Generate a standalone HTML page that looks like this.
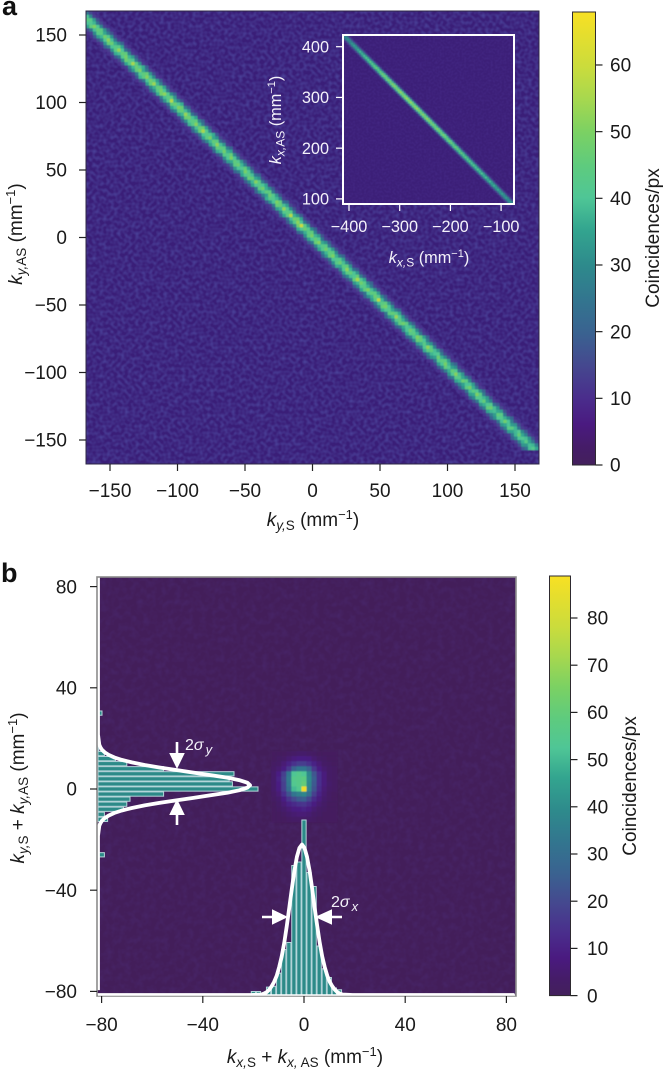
<!DOCTYPE html>
<html lang="en">
<head>
<meta charset="utf-8">
<title>Momentum correlation heatmaps</title>
<style>
html,body{margin:0;padding:0;background:#fff;width:664px;height:1071px;overflow:hidden}
svg{display:block}
text{font-family:"Liberation Sans",sans-serif;font-size:19px;fill:#1a1a1a}
.it{font-style:italic}
.sub{font-size:13.5px}
.sup{font-size:13px}
.w{fill:#f4f2fa}
.ins{font-size:16.3px}
.insub{font-size:12px}
.insup{font-size:11px}
</style>
</head>
<body>
<svg id="figure" width="664" height="1071" viewBox="0 0 664 1071" xmlns="http://www.w3.org/2000/svg">
<defs>
<clipPath id="clipA"><rect x="86" y="11" width="453" height="453"/></clipPath>
<clipPath id="clipI"><rect x="343" y="35" width="171" height="169"/></clipPath>
<clipPath id="clipB"><rect x="97" y="577" width="419" height="419"/></clipPath>
<filter id="grainA" x="0" y="0" width="100%" height="100%" color-interpolation-filters="sRGB">
<feTurbulence type="fractalNoise" baseFrequency="0.28" numOctaves="1" seed="7"/>
<feColorMatrix values="0 0 0 0 0.30  0 0 0 0 0.28  0 0 0 0 0.62  1.7 0 0 0 -0.6"/>
</filter>
<filter id="grainI" x="0" y="0" width="100%" height="100%" color-interpolation-filters="sRGB">
<feTurbulence type="fractalNoise" baseFrequency="0.45" numOctaves="1" seed="11"/>
<feColorMatrix values="0 0 0 0 0.30  0 0 0 0 0.20  0 0 0 0 0.58  0.8 0 0 0 -0.3"/>
</filter>
<filter id="grainB" x="0" y="0" width="100%" height="100%" color-interpolation-filters="sRGB">
<feTurbulence type="fractalNoise" baseFrequency="0.16" numOctaves="2" seed="4"/>
<feColorMatrix values="0 0 0 0 0.30  0 0 0 0 0.18  0 0 0 0 0.48  0.8 0 0 0 -0.32"/>
</filter>
<filter id="soft" x="-5%" y="-5%" width="110%" height="110%"><feGaussianBlur stdDeviation="0.6"/></filter>
<filter id="softI" x="-5%" y="-5%" width="110%" height="110%"><feGaussianBlur stdDeviation="0.4"/></filter>
<filter id="softB" x="-15%" y="-15%" width="130%" height="130%"><feGaussianBlur stdDeviation="0.5"/></filter>
<linearGradient id="cmap" x1="0" y1="1" x2="0" y2="0"></linearGradient>
</defs>

<text x="2" y="15" style="font-size:27px;font-weight:bold;fill:#111">a</text>
<text x="1" y="582" style="font-size:27px;font-weight:bold;fill:#111">b</text>

<g id="panelA">
  <g clip-path="url(#clipA)">
    <rect x="86" y="11" width="453" height="453" fill="#3a1e78"/>
    <rect x="86" y="11" width="453" height="453" filter="url(#grainA)"/>
    <g id="ridgeA" filter="url(#soft)"></g>
  </g>
  <rect x="86" y="11" width="453" height="453" fill="none" stroke="#2e2745" stroke-width="1"/>
  <g id="ticksA"></g>
  <text x="313" y="526" text-anchor="middle"><tspan class="it">k</tspan><tspan class="it sub" dy="4">y,</tspan><tspan class="sub">S</tspan><tspan dy="-4"> (mm</tspan><tspan class="sup" dy="-7">−1</tspan><tspan dy="7">)</tspan></text>
  <text transform="translate(22,234) rotate(-90)" text-anchor="middle"><tspan class="it">k</tspan><tspan class="it sub" dy="4">y,</tspan><tspan class="sub">AS</tspan><tspan dy="-4"> (mm</tspan><tspan class="sup" dy="-7">−1</tspan><tspan dy="7">)</tspan></text>

  <g id="insetA">
    <g clip-path="url(#clipI)">
      <rect x="343" y="35" width="171" height="169" fill="#3c1f78"/>
      <rect x="343" y="35" width="171" height="169" filter="url(#grainI)"/>
      <g id="ridgeI" filter="url(#softI)"></g>
    </g>
    <rect x="343" y="35" width="171" height="169" fill="none" stroke="#fff" stroke-width="2"/>
    <g id="ticksI"></g>
    <text class="w ins" x="429" y="263" text-anchor="middle"><tspan class="it">k</tspan><tspan class="it insub" dy="3.5">x,</tspan><tspan class="insub">S</tspan><tspan dy="-3.5"> (mm</tspan><tspan class="insup" dy="-6">−1</tspan><tspan dy="6">)</tspan></text>
    <text class="w ins" transform="translate(281,120) rotate(-90)" text-anchor="middle"><tspan class="it">k</tspan><tspan class="it insub" dy="3.5">x,</tspan><tspan class="insub">AS</tspan><tspan dy="-3.5">  (mm</tspan><tspan class="insup" dy="-6">−1</tspan><tspan dy="6">)</tspan></text>
  </g>
</g>

<g id="cbarA">
  <rect x="572.5" y="12" width="23" height="453" fill="url(#cmap)" stroke="#2e2a30" stroke-width="1"/>
  <text transform="translate(659,238) rotate(-90)" text-anchor="middle">Coincidences/px</text>
</g>

<g id="panelB">
  <g clip-path="url(#clipB)">
    <rect x="97" y="577" width="419" height="419" fill="#431e5a"/>
    <rect x="97" y="577" width="419" height="419" filter="url(#grainB)"/>
    <g id="blobB" filter="url(#softB)"></g>
    <g id="histY"></g>
    <g id="histX"></g>
    <path id="fitY" fill="none" stroke="#fff" stroke-width="3.8" stroke-linejoin="round"/>
    <path id="fitX" fill="none" stroke="#fff" stroke-width="3.8" stroke-linejoin="round"/>
  </g>
  <rect x="97" y="577" width="419" height="419" fill="none" stroke="#8c8c8c" stroke-width="1.6"/>
  <line x1="98" y1="995" x2="515" y2="995" stroke="#fff" stroke-width="1.4"/>
  <g id="ticksB"></g>

  <g fill="#fff">
    <path d="M175.7 742h2.6v11h6.5l-7.8 16l-7.8-16h6.5z"/>
    <path d="M175.7 825h2.6v-10h6.5l-7.8-16l-7.8 16h6.5z"/>
    <text class="w" x="185" y="750" style="font-size:16px">2<tspan class="it">σ</tspan><tspan class="it" dx="2" dy="4" style="font-size:13px">y</tspan></text>
  </g>
  <g fill="#fff">
    <path d="M262 915.7h10v-6.5l16 7.8l-16 7.8v-6.5h-10z"/>
    <path d="M342 915.7h-10v-6.5l-17 7.8l17 7.8v-6.5h10z"/>
    <text class="w" x="331" y="907" style="font-size:16px">2<tspan class="it">σ</tspan><tspan class="it" dx="2" dy="4" style="font-size:13px">x</tspan></text>
  </g>

  <text x="305" y="1063" text-anchor="middle"><tspan class="it">k</tspan><tspan class="it sub" dy="4">x,</tspan><tspan class="sub">S</tspan><tspan dy="-4"> + </tspan><tspan class="it">k</tspan><tspan class="it sub" dy="4">x,</tspan><tspan class="sub"> AS</tspan><tspan dy="-4"> (mm</tspan><tspan class="sup" dy="-7">−1</tspan><tspan dy="7">)</tspan></text>
  <text transform="translate(24,788) rotate(-90)" text-anchor="middle"><tspan class="it">k</tspan><tspan class="it sub" dy="4">y,</tspan><tspan class="sub">S</tspan><tspan dy="-4"> + </tspan><tspan class="it">k</tspan><tspan class="it sub" dy="4">y,</tspan><tspan class="sub">AS</tspan><tspan dy="-4"> (mm</tspan><tspan class="sup" dy="-7">−1</tspan><tspan dy="7">)</tspan></text>
</g>

<g id="cbarB">
  <rect x="549.5" y="576" width="21" height="419.6" fill="url(#cmap)" stroke="#2e2a30" stroke-width="1"/>
  <text transform="translate(636,786) rotate(-90)" text-anchor="middle">Coincidences/px</text>
</g>
</svg>

<script>
/* colormap sampled from the printed colorbars */
const cmapPositions = [0,.04,.09,.147,.22,.29,.36,.44,.52,.59,.66,.735,.81,.88,1];
const cmapColors = ["#43205c","#451c68","#4a1a80","#4a2d8c","#45488f","#3a6290","#33748f","#2e8a8c","#33a58f","#4fc696","#5ecb7e","#7bd163","#a8d84e","#cbdc3c","#f8e023"];

/* panel a */
const ticksAx = [-150,-100,-50,0,50,100,150];
const ticksAy = [-150,-100,-50,0,50,100,150];
const colorbarATicks = [0,10,20,30,40,50,60];
const colorbarAMax = 68;
const ridgeBinWidth = 2.5;
const ridgeFirstKx = -167.5;
const ridgeFirstKy = 166.25;
/* position of the ridge: first band column vs row */
const ridgeColumnOrigin = -4.8;
const ridgeColumnPerRow = 1.04;
/* how strongly each band column carries the row's counts, and the outermost tail */
const ridgeCrossGain = [1.7,1.35,1.05,1,1.05,1.35,1.7];
const ridgeTailCount = 11;
/* coincidence counts across the ridge, one row per ky bin */
const ridgeCounts = [
[9,20,36,42,33,19,9],[11,24,40,47,38,22,8],[8,19,35,44,41,25,10],[10,23,38,41,36,18,9],[12,26,43,50,39,21,8],[9,18,37,46,42,24,11],[8,22,41,44,34,20,10],[11,25,36,48,40,23,9],
[10,21,39,52,37,19,8],[9,24,44,47,35,22,12],[12,20,38,43,41,26,9],[8,23,42,53,38,18,10],[10,27,37,46,43,21,8],[11,19,40,49,36,25,11],[9,22,45,44,39,20,9],[10,26,41,55,42,23,8],
[8,21,36,47,40,27,12],[12,24,43,50,34,19,9],[9,20,39,45,44,24,10],[11,28,42,51,37,22,8],[10,18,38,48,41,25,11],[8,25,44,54,36,20,9],[9,22,35,46,43,26,10],[12,23,41,49,38,19,8],
[10,27,46,52,40,22,12],[8,20,37,44,42,24,9],[11,24,40,57,35,21,10],[9,19,43,47,39,27,8],[10,26,38,50,44,20,11],[12,22,42,46,37,23,9],[8,25,36,53,41,18,10],[9,21,45,48,38,26,8],
[11,23,39,44,43,22,12],[10,28,41,51,36,19,9],[8,20,37,47,45,25,10],[12,24,44,55,40,21,8],[9,19,38,43,39,27,11],[10,26,42,49,34,23,9],[11,22,36,46,42,18,10],[8,25,40,52,37,24,8],
[9,21,43,45,41,20,12],[12,27,37,48,35,26,9],[10,18,41,42,44,22,10],[8,23,39,50,38,19,8],[11,25,34,45,40,24,11],[9,20,42,47,36,21,9],[10,24,38,41,43,25,10],[12,19,35,49,39,22,8],
[8,26,40,44,37,18,12],[9,22,44,46,34,23,9],[11,21,36,51,41,20,10],[10,25,39,43,38,26,8],[8,18,42,48,35,22,11],[12,24,37,45,42,19,9],[9,20,33,47,40,24,10],[10,27,41,42,36,21,8],
[11,23,38,50,43,18,12],[8,19,44,46,37,25,9],[10,25,36,53,39,22,10],[9,22,40,44,41,20,8],[12,26,43,57,35,23,11],[8,18,37,48,44,26,9],[11,24,41,52,38,19,10],[10,21,46,60,42,24,8],
[9,27,39,47,40,22,12],[12,20,35,44,43,21,9],[8,23,42,49,36,25,10],[10,25,38,46,39,18,8],[11,19,44,51,34,23,11],[9,22,37,43,41,20,9],[10,26,40,48,38,24,10],[8,21,36,45,42,22,8],
[12,24,43,50,35,19,12],[9,18,38,42,40,25,9],[10,23,41,47,37,21,10],[11,27,34,44,43,23,8],[8,20,39,52,36,18,11],[9,25,42,46,38,24,9],[12,22,37,41,44,20,10],[10,19,44,55,39,26,8],
[8,24,36,48,41,22,12],[11,21,40,43,35,19,9],[9,26,43,50,37,23,10],[10,18,38,45,42,25,8],[12,23,35,47,40,21,11],[8,25,41,58,36,18,9],[9,20,37,44,43,24,10],[11,22,44,49,38,22,8],
[10,27,39,42,34,20,12],[8,19,42,46,41,26,9],[12,24,36,53,39,23,10],[9,21,40,45,35,19,8],[10,25,43,48,42,21,11],[11,18,34,41,37,24,9],[8,23,38,47,40,22,10],[9,26,41,44,36,18,8],
[12,20,37,50,43,25,12],[10,22,44,46,38,20,9],[8,24,35,43,34,23,10],[11,19,39,52,41,21,8],[9,27,42,45,37,24,11],[10,21,36,40,39,19,9],[12,23,33,47,35,22,10],[8,18,40,44,42,25,8],
[9,25,38,49,36,20,12],[11,22,43,41,33,23,9],[10,20,35,46,40,18,10],[8,24,39,51,37,24,8],[12,19,41,43,34,21,11],[9,26,36,47,42,22,9],[10,21,33,40,38,25,10],[11,23,42,48,35,19,8],
[8,18,37,44,39,23,12],[9,25,34,50,41,20,9],[12,22,40,42,36,24,10],[10,19,38,46,33,21,8],[8,24,35,41,40,18,11],[11,21,43,47,37,23,9],[9,26,36,39,34,25,10],[10,20,32,45,41,19,8],
[12,23,39,42,35,22,12],[8,18,37,48,38,20,9],[9,24,34,40,32,24,10],[11,21,41,44,36,18,8],[10,25,33,38,39,22,11],[8,19,36,46,34,21,9],[12,22,38,41,37,23,10],[9,20,35,43,33,19,8],
[10,24,31,39,36,20,12],[11,18,37,42,34,22,9]
];

/* inset */
const ticksIx = [-400,-300,-200,-100];
const ticksIy = [100,200,300,400];
const insetBinWidth = 4;
const insetFirstKy = 422;
const insetRidgeSum = 12;
const insetBackgroundCounts = 4;
const insetCross = [.3,.82,1.05,.82,.3];
const insetRidge = [24,26,27,25,28,30,29,31,33,32,34,36,35,38,37,39,41,38,40,42,43,41,44,42,45,46,43,45,47,44,46,48,45,47,44,46,48,45,43,46,44,47,45,43,44,42,45,43,41,44,42,40,43,41,39,42,40,38,40,37,39,36,38,35,37,34,36,33,35,32,34,31,33,30,32,29,31,28,30,27,29,26,28,25];

/* panel b */
const ticksBx = [-80,-40,0,40,80];
const ticksBy = [-80,-40,0,40,80];
const colorbarBTicks = [0,10,20,30,40,50,60,70,80];
const colorbarBMax = 89;
const peakBinWidth = 2;
const peakCols = [-6,-5,-4,-3,-2,-1,0,1,2,3,4,5,6];
const peakRows = [7,6,5,4,3,2,1,0,-1,-2,-3,-4,-5,-6];
const peakCounts = [
[1,1,1,2,3,4,4,3,2,1,1,1,1],
[1,2,3,5,7,9,9,8,5,3,2,1,1],
[2,3,6,10,14,17,17,14,10,6,3,2,1],
[3,5,9,16,26,32,32,26,16,9,5,3,2],
[4,9,18,32,53,55,53,38,23,13,7,3,2],
[4,10,19,34,55,56,58,39,25,13,7,3,2],
[4,9,18,33,54,56,60,38,24,13,7,4,2],
[4,8,18,30,50,54,87,36,22,12,6,3,2],
[3,6,13,22,32,36,38,30,18,10,5,2,1],
[2,4,9,15,20,24,25,19,12,7,4,2,1],
[1,3,6,10,12,14,15,12,8,5,3,1,1],
[1,2,4,6,8,9,10,8,5,3,2,1,1],
[1,1,2,4,5,6,6,5,3,2,1,1,1],
[1,1,1,2,3,3,3,3,2,1,1,1,1]
];
/* marginal histograms: relative counts per 2 mm^-1 bin, bins -40..40 */
const histFirstBin = -40;
const histXValues = [0,.5,0,0,0,.5,0,0,0,0,.5,0,.5,0,0,0,0,.5,0,0,.5,0,0,.5,.5,0,0,.5,0,0,2,2,0,4.5,5,12.5,26,30,74,76,100,70,62,28,15,10,4,3,0,.5,.5,0,0,0,0,0,0,.5,0,0,0,0,.5,0,0,0,.5,0,0,0,0,.5,0,0,0,.5,.5,0,0,.5,0];
const histYValues = [0,0,0,0,.5,.5,0,0,0,0,0,.5,0,0,0,0,0,0,0,0,0,.5,0,0,0,0,0,4,0,0,0,0,0,0,6,4,16,18,20,41,100,84,82,85,41,18,11,4,.5,0,0,0,0,0,0,2.5,0,.5,0,0,0,.5,0,.5,0,0,.5,.5,0,.5,.5,0,.5,0,.5,0,0,.5,0,0,0];
/* gaussian fits */
const fitOffsets = [-81,-20,-16,-15,-14,-13,-12,-11,-10,-9,-8,-7,-6,-5,-4,-3,-2,-1,0,1,2,3,4,5,6,7,8,9,10,11,12,13,14,15,16,20,84];
const fitXCenter = -0.8;
const fitXHeights = [0,0,.3,.8,1.6,3,5,7.5,11,16,22,30,39.5,50,61,71,79,84,86,84,79,71,61,50,39.5,30,22,16,11,7.5,5,3,1.6,.8,.3,0,0];
const fitYCenter = 1.5;
const fitYHeights = [0,0,.8,1.5,2.5,4.2,6.6,10.1,14.9,21.2,29.1,38.4,48.9,59.7,70.3,80.7,88.2,93.3,95,93.3,88.2,80.7,70.3,59.7,48.9,38.4,29.1,21.2,14.9,10.1,6.6,4.2,2.5,1.5,.8,0,0];

/* axis functions */
const xA = v => 312.5 + 1.35 * v;
const yA = v => 237.5 - 1.35 * v;
const xI = v => 349 + (v + 400) * 0.507;
const yI = v => 46.7 + (400 - v) * 0.5073;
const xB = v => 304 + 2.53 * v;
const yB = v => 789 - 2.53 * v;
const cbA = v => 465 - 6.667 * v;
const cbB = v => 995.6 - 4.72 * v;
const histXLen = v => v * 1.75;
const histYLen = v => v * 1.6;

const NS = "http://www.w3.org/2000/svg";
function make(parent, tag, attrs) {
  const el = document.createElementNS(NS, tag);
  for (const k in attrs) el.setAttribute(k, attrs[k]);
  parent.appendChild(el);
  return el;
}
function hex(c){return [1,3,5].map(i=>parseInt(c.substr(i,2),16));}
function colorAt(f){
  f = Math.max(0, Math.min(1, f));
  let i = 0;
  while (i < cmapPositions.length - 2 && f > cmapPositions[i+1]) i++;
  const t = (f - cmapPositions[i]) / (cmapPositions[i+1] - cmapPositions[i]);
  const a = hex(cmapColors[i]), b = hex(cmapColors[i+1]);
  return "rgb(" + a.map((v,n)=>Math.round(v + (b[n]-v)*t)).join(",") + ")";
}
function fmt(v){ return String(v).replace("-", "\u2212"); }

/* shared gradient for colorbars */
const grad = document.getElementById("cmap");
cmapPositions.forEach((p,i)=>{
  make(grad, "stop", {offset: p, "stop-color": cmapColors[i]});
});

/* tick drawing */
function xTicks(group, values, scale, y0, len, labelY, cls, color, name){
  values.forEach(v=>{
    const tick = make(group,"line",{x1:scale(v),x2:scale(v),y1:y0,y2:y0+len,stroke:color,"stroke-width":1.2});
    
    
    const t = make(group,"text",{x:scale(v),y:labelY,"text-anchor":"middle"});
    
    
    if (cls) t.setAttribute("class", cls);
    t.textContent = fmt(v);
  });
}
function yTicks(group, values, scale, x0, len, labelX, cls, color, name, offset){
  values.forEach(v=>{
    const tick = make(group,"line",{x1:x0,x2:x0-len,y1:scale(v),y2:scale(v),stroke:color,"stroke-width":1.2});
    
    
    const t = make(group,"text",{x:labelX,y:scale(v)+offset,"text-anchor":"end"});
    
    
    if (cls) t.setAttribute("class", cls);
    t.textContent = fmt(v);
  });
}
function barTicks(group, values, scale, x0, len, labelX, name){
  values.forEach(v=>{
    const tick = make(group,"line",{x1:x0,x2:x0+len,y1:scale(v),y2:scale(v),stroke:"#222","stroke-width":1.2});
    
    
    const t = make(group,"text",{x:labelX,y:scale(v)+6.7});
    
    
    t.textContent = v;
  });
}
const gA = document.getElementById("ticksA");
xTicks(gA, ticksAx, xA, 464, 7, 497, "", "#222", "panel-a");
yTicks(gA, ticksAy, yA, 86, 7, 67, "", "#222", "panel-a", 6.7);
const gI = document.getElementById("ticksI");
xTicks(gI, ticksIx, xI, 205, 6, 232, "w ins", "#fff", "inset");
yTicks(gI, ticksIy, yI, 342, 6, 329, "w ins", "#fff", "inset", 5.8);
const gB = document.getElementById("ticksB");
xTicks(gB, ticksBx, xB, 996, 7, 1031, "", "#222", "panel-b");
yTicks(gB, ticksBy, yB, 97, 7, 77, "", "#222", "panel-b", 6.7);
barTicks(document.getElementById("cbarA"), colorbarATicks, cbA, 595.5, 7, 610, "panel-a-colorbar");
barTicks(document.getElementById("cbarB"), colorbarBTicks, cbB, 570.5, 7, 587, "panel-b-colorbar");

/* panel a ridge cells */
const ridgeG = document.getElementById("ridgeA");
function ridgeCell(j, c, count){
  const ky = ridgeFirstKy - ridgeBinWidth * j;
  const kx = ridgeFirstKx + ridgeBinWidth * (ridgeColumnOrigin + ridgeColumnPerRow * j + c);
  const cell = make(ridgeG,"rect",{
    x:xA(kx-ridgeBinWidth/2), y:yA(ky+ridgeBinWidth/2),
    width:xA(kx+ridgeBinWidth/2)-xA(kx-ridgeBinWidth/2)+.3,
    height:yA(ky-ridgeBinWidth/2)-yA(ky+ridgeBinWidth/2)+.3,
    fill:colorAt(count/colorbarAMax)});
  
  
}
ridgeCounts.forEach((row,j)=>{
  ridgeCell(j, -1, ridgeTailCount);
  ridgeCell(j, row.length, ridgeTailCount);
  row.forEach((count,c)=>{
    ridgeCell(j, c, count * ridgeCrossGain[c]);
  });
});

/* inset ridge cells */
const insetG = document.getElementById("ridgeI");
insetRidge.forEach((count,j)=>{
  const ky = insetFirstKy - insetBinWidth * j;
  const centre = insetRidgeSum - ky;
  insetCross.forEach((w,c)=>{
    const kx = centre + (c - 2) * insetBinWidth;
    const cell = make(insetG,"rect",{
      x:xI(kx-insetBinWidth/2), y:yI(ky+insetBinWidth/2),
      width:xI(kx+insetBinWidth/2)-xI(kx-insetBinWidth/2)+.2,
      height:yI(ky-insetBinWidth/2)-yI(ky+insetBinWidth/2)+.2,
      fill:colorAt((insetBackgroundCounts + count*w)/colorbarAMax)});
    
    
  });
});

/* panel b peak cells */
const blobG = document.getElementById("blobB");
peakRows.forEach((rowBin,r)=>{
  peakCols.forEach((colBin,c)=>{
    const kx = colBin * peakBinWidth, ky = rowBin * peakBinWidth;
    const cell = make(blobG,"rect",{
      x:xB(kx-peakBinWidth/2), y:yB(ky+peakBinWidth/2),
      width:xB(kx+peakBinWidth/2)-xB(kx-peakBinWidth/2)+.2,
      height:yB(ky-peakBinWidth/2)-yB(ky+peakBinWidth/2)+.2,
      fill:colorAt(peakCounts[r][c]/colorbarBMax)});
    
    
  });
});

/* marginal histograms */
const hx = document.getElementById("histX");
histXValues.forEach((v,i)=>{
  if (!v) return;
  const k = (histFirstBin + i) * 2;
  const len = histXLen(v);
  const bar = make(hx,"rect",{x:xB(k-1)+.4,y:995-len,width:xB(k+1)-xB(k-1)-.8,height:len,fill:"#2c8a88",stroke:"#b4d6da","stroke-width":1});
  
  
});
const hy = document.getElementById("histY");
histYValues.forEach((v,i)=>{
  if (!v) return;
  const k = (histFirstBin + i) * 2;
  const bar = make(hy,"rect",{x:98,y:yB(k+1)+.4,width:histYLen(v),height:yB(k-1)-yB(k+1)-.8,fill:"#2c8a88",stroke:"#b4d6da","stroke-width":1});
  
  
});

/* fit curves */
document.getElementById("fitX").setAttribute("d",
  fitOffsets.map((d,i)=>(i?"L":"M")+xB(fitXCenter+d).toFixed(1)+" "+(995-histXLen(fitXHeights[i])).toFixed(1)).join(""));
document.getElementById("fitY").setAttribute("d",
  fitOffsets.map((d,i)=>(i?"L":"M")+(98+histYLen(fitYHeights[i])).toFixed(1)+" "+yB(fitYCenter+d).toFixed(1)).join(""));
</script>
</body>
</html>
